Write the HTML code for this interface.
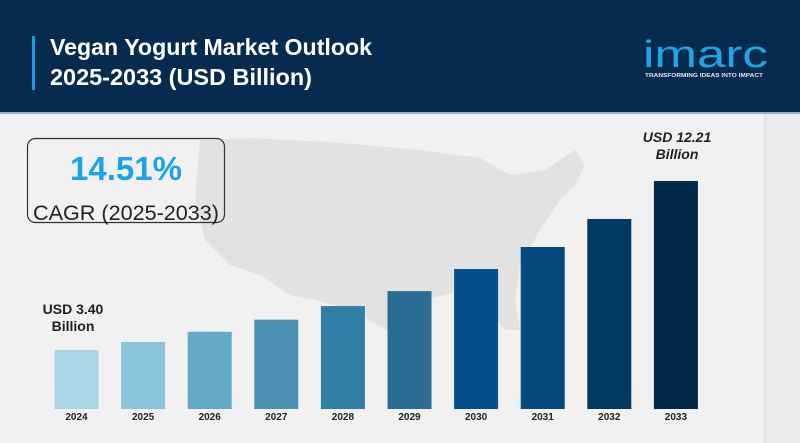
<!DOCTYPE html>
<html><head><meta charset="utf-8"><style>
html,body{margin:0;padding:0;}
body{width:800px;height:443px;overflow:hidden;background:#f1f1f2;font-family:"Liberation Sans",sans-serif;position:relative;}
</style></head><body>
<svg width="800" height="443" viewBox="0 0 800 443" xmlns="http://www.w3.org/2000/svg" style="position:absolute;left:0;top:0">
<rect x="0" y="0" width="800" height="443" fill="#f1f1f2"/>
<rect x="765" y="113" width="35" height="330" fill="#ebeaed"/>
<line x1="765" y1="113" x2="765" y2="443" stroke="#d6d6da" stroke-width="1"/>
<path d="M200 140 L250 138 L330 142 L420 150 L480 158 L510 175 L545 170 L560 160 L575 150 L585 165 L575 185 L560 200 L540 230 L520 265 L515 300 L520 330 L505 330 L480 300 L455 292 L425 300 L405 330 L385 330 L355 310 L315 300 L290 295 L260 275 L230 265 L205 240 L195 200 Z" fill="#e2e2e3"/>
<rect x="0" y="0" width="800" height="112" fill="#062b4e"/>
<rect x="0" y="112" width="800" height="2" fill="#8fb3d2"/>
<rect x="32" y="36" width="3" height="54" fill="#1e9be0"/>
<g font-family="'Liberation Sans',sans-serif" font-weight="bold" font-size="23" fill="#fff">
<text x="50" y="55" textLength="322" lengthAdjust="spacingAndGlyphs">Vegan Yogurt Market Outlook</text>
<text x="50" y="85" textLength="262" lengthAdjust="spacingAndGlyphs">2025-2033 (USD Billion)</text>
</g>
<text x="643" y="67" font-size="38" fill="#20a4e6" font-family="'Liberation Sans',sans-serif" textLength="125" lengthAdjust="spacingAndGlyphs">imarc</text>
<text x="645" y="77" font-size="5" font-weight="bold" fill="#dfe8f0" textLength="118" lengthAdjust="spacingAndGlyphs">TRANSFORMING IDEAS INTO IMPACT</text>
<rect x="27.5" y="138.5" width="197" height="84" rx="8" fill="none" stroke="#333" stroke-width="1.2"/>
<text x="126" y="180" text-anchor="middle" font-size="33" font-weight="bold" fill="#1aa3e8">14.51%</text>
<text x="126" y="220" text-anchor="middle" font-size="21" fill="#222" textLength="186" lengthAdjust="spacingAndGlyphs">CAGR (2025-2033)</text>
<g id="bars"></g>
<text x="73" y="314" text-anchor="middle" font-size="14" font-weight="bold" fill="#222">USD 3.40</text>
<text x="73" y="331" text-anchor="middle" font-size="14" font-weight="bold" fill="#222">Billion</text>
<text x="677" y="142" text-anchor="middle" font-size="14" font-weight="bold" font-style="italic" fill="#222">USD 12.21</text>
<text x="677" y="159" text-anchor="middle" font-size="14" font-weight="bold" font-style="italic" fill="#222">Billion</text>
</svg>
<script>
const categories = ["2024","2025","2026","2027","2028","2029","2030","2031","2032","2033"];
const values = [3.40, 3.82, 4.35, 4.98, 5.69, 6.47, 7.62, 8.77, 10.23, 12.21];
const colors = ["#a8d6e7","#8ac3dc","#64a8c7","#4a91b3","#2f7ea4","#2b6c95","#05508a","#044a7c","#033a63","#03294a"];
const baseY = 409, pxPerUnit = 19.18, offset = -6.2;
function yScale(v){ return baseY - (offset + v*pxPerUnit); }
function xScale(i){ return 76.5 + i*66.6; }
const g = document.getElementById('bars');
const NS = "http://www.w3.org/2000/svg";
categories.forEach((c,i)=>{
  const r = document.createElementNS(NS,'rect');
  const top = yScale(values[i]);
  r.setAttribute('x', xScale(i)-22);
  r.setAttribute('y', top);
  r.setAttribute('width', 44);
  r.setAttribute('height', baseY-top);
  r.setAttribute('fill', colors[i]);
  
  
  g.appendChild(r);
  const t = document.createElementNS(NS,'text');
  t.setAttribute('x', xScale(i));
  t.setAttribute('y', 420);
  t.setAttribute('text-anchor','middle');
  t.setAttribute('font-size','10');
  t.setAttribute('font-weight','bold');
  t.setAttribute('fill','#222');
  t.textContent = c;
  
  
  g.appendChild(t);
});
</script>
</body></html>
